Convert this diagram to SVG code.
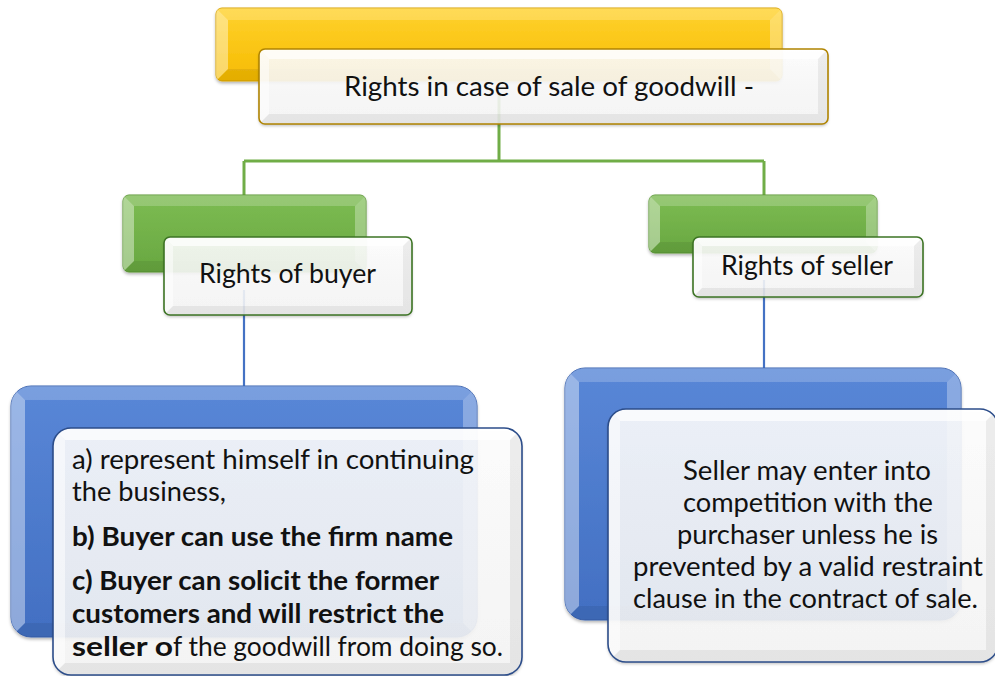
<svg xmlns="http://www.w3.org/2000/svg" width="995" height="676" viewBox="0 0 995 676">
  <defs>
    <linearGradient id="gYellow" x1="0" y1="0" x2="0" y2="1">
      <stop offset="0" stop-color="#ffd22e"/>
      <stop offset="1" stop-color="#f6bb00"/>
    </linearGradient>
    <linearGradient id="gGreen" x1="0" y1="0" x2="0" y2="1">
      <stop offset="0" stop-color="#7dbc53"/>
      <stop offset="1" stop-color="#68a740"/>
    </linearGradient>
    <linearGradient id="gBlue" x1="0" y1="0" x2="0" y2="1">
      <stop offset="0" stop-color="#5987d7"/>
      <stop offset="1" stop-color="#426fc2"/>
    </linearGradient>
    <linearGradient id="gWhite" x1="0" y1="0" x2="0" y2="1">
      <stop offset="0" stop-color="#ffffff"/>
      <stop offset="1" stop-color="#f6f6f6"/>
    </linearGradient>
    <filter id="shadow" x="-5%" y="-5%" width="110%" height="120%">
      <feDropShadow dx="0" dy="2" stdDeviation="1.5" flood-color="#000" flood-opacity="0.28"/>
    </filter>
    <clipPath id="cTop"><rect x="216" y="8" width="566" height="73" rx="6"/></clipPath>
    <clipPath id="cTopW"><rect x="259" y="49" width="569" height="75" rx="6"/></clipPath>
    <clipPath id="cBuy"><rect x="123" y="195" width="243" height="77" rx="6"/></clipPath>
    <clipPath id="cBuyW"><rect x="164" y="237" width="248" height="78" rx="6"/></clipPath>
    <clipPath id="cSel"><rect x="649" y="195" width="228" height="58" rx="6"/></clipPath>
    <clipPath id="cSelW"><rect x="693" y="237" width="230" height="60" rx="6"/></clipPath>
    <clipPath id="cBL"><rect x="11" y="386" width="466" height="251" rx="20"/></clipPath>
    <clipPath id="cBLW"><rect x="53" y="428" width="469" height="247" rx="18"/></clipPath>
    <clipPath id="cBR"><rect x="565" y="368" width="396" height="252" rx="20"/></clipPath>
    <clipPath id="cBRW"><rect x="608" y="409" width="390" height="253" rx="18"/></clipPath>
  </defs>
  <style>
    .yellow { fill: url(#gYellow); stroke: #d9a300; stroke-width: 1; }
    .green  { fill: url(#gGreen); stroke: #5a9634; stroke-width: 1; }
    .blue   { fill: url(#gBlue); stroke: #3a63b0; stroke-width: 1; }
    .card   { fill: url(#gWhite); fill-opacity: 0.87; }
    .edge-y { fill: none; stroke: #b08400; stroke-width: 1.6; }
    .edge-g { fill: none; stroke: #3d7424; stroke-width: 1.6; }
    .edge-b { fill: none; stroke: #2c4d8a; stroke-width: 1.6; }
    .bt { fill: #ffffff; fill-opacity: 0.2; }
    .bl { fill: #ffffff; fill-opacity: 0.4; }
    .br { fill: #ffffff; fill-opacity: 0.3; }
    .bb { fill: #000000; fill-opacity: 0.07; }
    .wt { fill: #ffffff; fill-opacity: 0.7; }
    .wl { fill: #ffffff; fill-opacity: 0.5; }
    .wr { fill: #000000; fill-opacity: 0.06; }
    .wb { fill: #000000; fill-opacity: 0.06; }
    .conn-g { stroke: #70ad47; stroke-width: 3; fill: none; }
    .conn-b { stroke: #4472c4; stroke-width: 2.2; fill: none; }
    text { font-family: Lato, "Open Sans", "Liberation Sans", sans-serif; fill: #111; font-size: 26px; }
    .bold { font-weight: bold; }
  </style>

  <!-- connectors -->
  <g id="connectors">
    <path class="conn-g" d="M499,95 V161"/>
    <path class="conn-g" d="M244,161 H764"/>
    <path class="conn-g" d="M244,161 V196"/>
    <path class="conn-g" d="M764,161 V196"/>
    <path class="conn-b" d="M244,290 V387"/>
    <path class="conn-b" d="M764,280 V369"/>
  </g>

  <!-- root: rights in case of sale of goodwill -->
  <g id="node-root">
    <rect class="yellow" x="216" y="8" width="566" height="73" rx="6" filter="url(#shadow)"/>
    <g clip-path="url(#cTop)">
      <path class="bt" d="M216,8 H782 L770,20 H228 Z"/>
      <path class="bl" d="M216,8 L228,20 V69 L216,81 Z"/>
      <path class="br" d="M782,8 V81 L770,69 V20 Z"/>
      <path class="bb" d="M216,81 H782 L770,69 H228 Z"/>
    </g>
    <rect class="card" x="259" y="49" width="569" height="75" rx="6" filter="url(#shadow)"/>
    <g clip-path="url(#cTopW)">
      <path class="wt" d="M259,49 H828 L818,59 H269 Z"/>
      <path class="wl" d="M259,49 L269,59 V114 L259,124 Z"/>
      <path class="wr" d="M828,49 V124 L818,114 V59 Z"/>
      <path class="wb" d="M259,124 H828 L818,114 H269 Z"/>
    </g>
    <rect class="edge-y" x="259" y="49" width="569" height="75" rx="6"/>
    <text x="344" y="96" textLength="410" lengthAdjust="spacingAndGlyphs">Rights in case of sale of goodwill -</text>
  </g>

  <!-- rights of buyer -->
  <g id="node-buyer">
    <rect class="green" x="123" y="195" width="243" height="77" rx="6" filter="url(#shadow)"/>
    <g clip-path="url(#cBuy)">
      <path class="bt" d="M123,195 H366 L355,206 H134 Z"/>
      <path class="bl" d="M123,195 L134,206 V261 L123,272 Z"/>
      <path class="br" d="M366,195 V272 L355,261 V206 Z"/>
      <path class="bb" d="M123,272 H366 L355,261 H134 Z"/>
    </g>
    <rect class="card" x="164" y="237" width="248" height="78" rx="6" filter="url(#shadow)"/>
    <g clip-path="url(#cBuyW)">
      <path class="wt" d="M164,237 H412 L403,246 H173 Z"/>
      <path class="wl" d="M164,237 L173,246 V306 L164,315 Z"/>
      <path class="wr" d="M412,237 V315 L403,306 V246 Z"/>
      <path class="wb" d="M164,315 H412 L403,306 H173 Z"/>
    </g>
    <rect class="edge-g" x="164" y="237" width="248" height="78" rx="6"/>
    <text x="199" y="283" textLength="177" lengthAdjust="spacingAndGlyphs">Rights of buyer</text>
  </g>

  <!-- rights of seller -->
  <g id="node-seller">
    <rect class="green" x="649" y="195" width="228" height="58" rx="6" filter="url(#shadow)"/>
    <g clip-path="url(#cSel)">
      <path class="bt" d="M649,195 H877 L866,206 H660 Z"/>
      <path class="bl" d="M649,195 L660,206 V242 L649,253 Z"/>
      <path class="br" d="M877,195 V253 L866,242 V206 Z"/>
      <path class="bb" d="M649,253 H877 L866,242 H660 Z"/>
    </g>
    <rect class="card" x="693" y="237" width="230" height="60" rx="6" filter="url(#shadow)"/>
    <g clip-path="url(#cSelW)">
      <path class="wt" d="M693,237 H923 L914,246 H702 Z"/>
      <path class="wl" d="M693,237 L702,246 V288 L693,297 Z"/>
      <path class="wr" d="M923,237 V297 L914,288 V246 Z"/>
      <path class="wb" d="M693,297 H923 L914,288 H702 Z"/>
    </g>
    <rect class="edge-g" x="693" y="237" width="230" height="60" rx="6"/>
    <text x="721" y="275" textLength="172" lengthAdjust="spacingAndGlyphs">Rights of seller</text>
  </g>

  <!-- buyer details -->
  <g id="node-buyer-details">
    <rect class="blue" x="11" y="386" width="466" height="251" rx="20" filter="url(#shadow)"/>
    <g clip-path="url(#cBL)">
      <path class="bt" d="M11,386 H477 L463,400 H25 Z"/>
      <path class="bl" d="M11,386 L25,400 V623 L11,637 Z"/>
      <path class="br" d="M477,386 V637 L463,623 V400 Z"/>
      <path class="bb" d="M11,637 H477 L463,623 H25 Z"/>
    </g>
    <rect class="card" x="53" y="428" width="469" height="247" rx="18" filter="url(#shadow)"/>
    <g clip-path="url(#cBLW)">
      <path class="wt" d="M53,428 H522 L510,440 H65 Z"/>
      <path class="wl" d="M53,428 L65,440 V663 L53,675 Z"/>
      <path class="wr" d="M522,428 V675 L510,663 V440 Z"/>
      <path class="wb" d="M53,675 H522 L510,663 H65 Z"/>
    </g>
    <rect class="edge-b" x="53" y="428" width="469" height="247" rx="18"/>
    <text x="72" y="469" textLength="402" lengthAdjust="spacingAndGlyphs">a) represent himself in continuing</text>
    <text x="72" y="501" textLength="154" lengthAdjust="spacingAndGlyphs">the business,</text>
    <text class="bold" x="72" y="546" textLength="381" lengthAdjust="spacingAndGlyphs">b) Buyer can use the firm name</text>
    <text class="bold" x="72" y="590" textLength="367" lengthAdjust="spacingAndGlyphs">c) Buyer can solicit the former</text>
    <text class="bold" x="72" y="623" textLength="372" lengthAdjust="spacingAndGlyphs">customers and will restrict the</text>
    <text y="656"><tspan class="bold" x="72" textLength="101" lengthAdjust="spacingAndGlyphs">seller o</tspan><tspan x="173" textLength="330" lengthAdjust="spacingAndGlyphs">f the goodwill from doing so.</tspan></text>
  </g>

  <!-- seller details -->
  <g id="node-seller-details">
    <rect class="blue" x="565" y="368" width="396" height="252" rx="20" filter="url(#shadow)"/>
    <g clip-path="url(#cBR)">
      <path class="bt" d="M565,368 H961 L947,382 H579 Z"/>
      <path class="bl" d="M565,368 L579,382 V606 L565,620 Z"/>
      <path class="br" d="M961,368 V620 L947,606 V382 Z"/>
      <path class="bb" d="M565,620 H961 L947,606 H579 Z"/>
    </g>
    <rect class="card" x="608" y="409" width="390" height="253" rx="18" filter="url(#shadow)"/>
    <g clip-path="url(#cBRW)">
      <path class="wt" d="M608,409 H998 L986,421 H620 Z"/>
      <path class="wl" d="M608,409 L620,421 V650 L608,662 Z"/>
      <path class="wr" d="M998,409 V662 L986,650 V421 Z"/>
      <path class="wb" d="M608,662 H998 L986,650 H620 Z"/>
    </g>
    <rect class="edge-b" x="608" y="409" width="390" height="253" rx="18"/>
    <text x="683" y="480" textLength="248" lengthAdjust="spacingAndGlyphs">Seller may enter into</text>
    <text x="683" y="512" textLength="250" lengthAdjust="spacingAndGlyphs">competition with the</text>
    <text x="677" y="544" textLength="261" lengthAdjust="spacingAndGlyphs">purchaser unless he is</text>
    <text x="633" y="576" textLength="350" lengthAdjust="spacingAndGlyphs">prevented by a valid restraint</text>
    <text x="633" y="608" textLength="345" lengthAdjust="spacingAndGlyphs">clause in the contract of sale.</text>
  </g>
</svg>
